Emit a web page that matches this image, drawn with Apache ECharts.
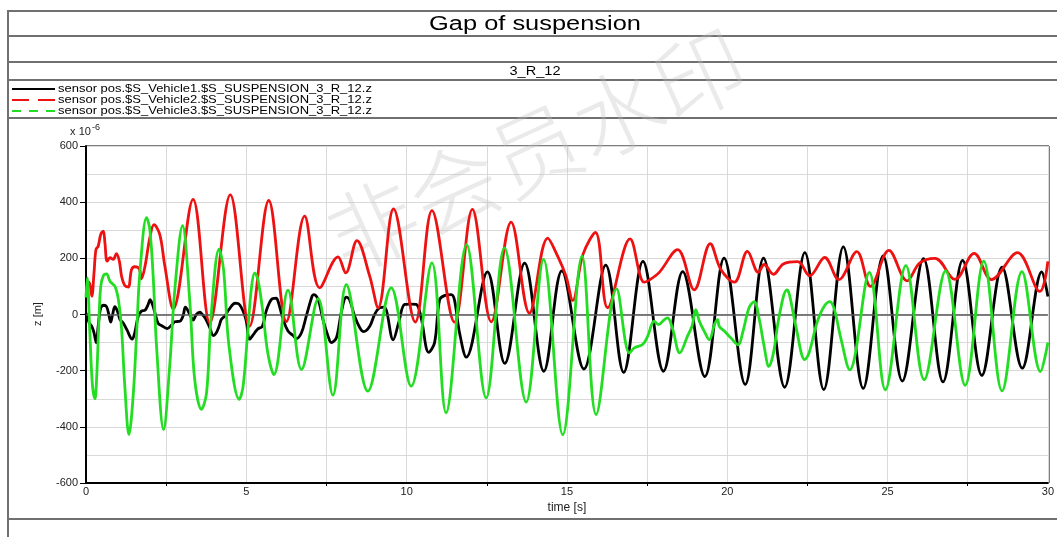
<!DOCTYPE html>
<html>
<head>
<meta charset="utf-8">
<title>Gap of suspension</title>
<script src="https://cdn.jsdelivr.net/npm/echarts@6/dist/echarts.min.js"></script>
<style>
  html, body { margin: 0; padding: 0; background: #fff; }
  #main { width: 1057px; height: 537px; }
</style>
</head>
<body>
<div id="main"></div>
<script>
// values, z in 1e-6 m, time in s
var seriesNames = [
  'sensor pos.$S_Vehicle1.$S_SUSPENSION_3_R_12.z',
  'sensor pos.$S_Vehicle2.$S_SUSPENSION_3_R_12.z',
  'sensor pos.$S_Vehicle3.$S_SUSPENSION_3_R_12.z'
];
var xTicks = [0, 5, 10, 15, 20, 25, 30];
var yTicks = [-600, -400, -200, 0, 200, 400, 600];

var blackT = [0.0, 0.1, 0.18, 0.25, 0.32, 0.38, 0.46, 0.56, 0.64, 0.7, 0.77, 0.83, 0.9, 0.98, 1.06, 1.16, 1.27, 1.44, 1.52, 1.63, 1.73, 1.84, 1.94, 2.0, 2.07, 2.15, 2.25, 2.35, 2.53, 2.67, 2.77, 2.93, 3.03, 3.1, 3.24, 3.34, 3.44, 3.55, 3.63, 3.73, 3.86, 3.97, 4.05, 4.15, 4.22, 4.33, 4.46, 4.65, 4.74, 4.9, 5.0, 5.1, 5.26, 5.36, 5.5, 5.62, 5.78, 5.93, 5.99, 6.15, 6.3, 6.46, 6.56, 6.72, 6.87, 7.05, 7.1, 7.24, 7.39, 7.55, 7.65, 7.81, 7.96, 8.12, 8.22, 8.38, 8.54, 8.66, 8.85, 9.0, 9.16, 9.3, 9.58, 9.75, 9.94, 10.14, 10.3, 10.45, 10.69, 10.87, 11.03, 11.2, 11.39, 11.49, 11.65, 11.86, 12.52, 13.06, 13.68, 14.28, 14.84, 15.53, 16.21, 16.77, 17.37, 18.01, 18.61, 19.3, 19.9, 20.56, 21.13, 21.79, 22.42, 23.01, 23.62, 24.24, 24.86, 25.46, 26.12, 26.73, 27.34, 27.94, 28.57, 29.2, 29.81, 30.0];
var blackZ = [6, -30, -42, -65, -100, -42, 24, 33, 28, 6, -27, 0, 28, 12, -18, -30, -53, -88, -65, -6, 12, 15, 36, 53, 36, 6, -32, -39, -50, -38, -26, -24, -4, 26, 0, -20, 0, 8, 0, -15, -47, -75, -68, -42, -18, -6, 18, 40, 39, 12, -24, -88, -65, -51, -42, 12, 53, 58, 47, -18, -59, -75, -86, -65, -6, 65, 71, 53, -18, -77, -100, -83, 6, 62, 53, -6, -47, -61, -42, 0, 24, 26, -90, -30, 36, 37, 36, -10, -135, -101, 53, 68, 71, 53, -65, -152, 152, -174, 183, -202, 155, -194, 176, -206, 189, -202, 153, -221, 201, -249, 201, -259, 220, -267, 241, -263, 209, -237, 199, -240, 193, -217, 169, -191, 152, 64];

var redT = [0.02, 0.1, 0.18, 0.25, 0.31, 0.38, 0.46, 0.54, 0.59, 0.66, 0.75, 0.85, 0.95, 1.04, 1.11, 1.21, 1.32, 1.42, 1.52, 1.66, 1.73, 1.84, 1.99, 2.12, 2.3, 2.46, 2.72, 3.34, 3.86, 4.5, 5.1, 5.7, 6.25, 6.82, 7.29, 7.86, 8.1, 8.45, 8.85, 9.11, 9.59, 10.27, 10.79, 11.49, 12.05, 12.64, 13.26, 13.83, 14.4, 14.71, 14.97, 15.18, 15.5, 15.89, 16.27, 16.97, 17.41, 17.6, 17.88, 18.45, 18.97, 19.47, 19.8, 20.22, 20.63, 20.97, 21.15, 21.44, 21.75, 22.2, 22.57, 23.04, 23.48, 24.04, 24.47, 25.04, 25.61, 26.0, 26.48, 27.1, 27.7, 28.24, 29.05, 29.75, 30.0];
var redZ = [95, 115, 65, 148, 231, 243, 285, 297, 255, 190, 202, 196, 217, 190, 136, 103, 98, 160, 170, 163, 127, 172, 273, 320, 285, 172, 20, 410, -30, 426, -42, 406, -25, 350, 95, 205, 148, 263, 136, 24, 376, -27, 370, -27, 374, -26, 329, 5, 272, 208, 137, 50, 214, 292, 24, 269, 115, 125, 150, 231, 88, 252, 160, 115, 225, 150, 178, 143, 180, 188, 138, 203, 124, 224, 100, 228, 120, 183, 200, 125, 218, 124, 220, 82, 189];

var greenT = [0.0, 0.04, 0.12, 0.2, 0.28, 0.33, 0.4, 0.46, 0.55, 0.64, 0.75, 0.9, 1.01, 1.11, 1.21, 1.34, 1.47, 1.58, 1.68, 1.89, 1.99, 2.1, 2.2, 2.42, 2.61, 2.77, 3.01, 3.24, 3.39, 3.6, 3.76, 3.91, 4.15, 4.29, 4.46, 4.78, 4.9, 5.05, 5.16, 5.26, 5.36, 5.52, 5.67, 5.86, 6.3, 6.72, 7.24, 7.7, 8.12, 8.79, 9.52, 10.14, 10.79, 11.23, 11.87, 12.48, 13.05, 13.73, 14.27, 14.87, 15.47, 15.91, 16.55, 16.95, 17.1, 17.36, 17.52, 17.72, 17.86, 18.04, 18.14, 18.3, 18.52, 18.76, 18.9, 19.02, 19.13, 19.28, 19.44, 19.6, 19.7, 19.75, 19.91, 20.11, 20.34, 20.48, 20.68, 20.84, 21.0, 21.15, 21.3, 21.44, 21.62, 21.86, 21.94, 22.14, 22.42, 22.55, 22.87, 23.2, 23.34, 23.54, 23.82, 24.43, 24.93, 25.57, 26.14, 26.81, 27.42, 28.0, 28.57, 29.19, 29.77, 30.0];
var greenZ = [60, 130, -65, -250, -300, -231, -30, 100, 140, 145, 118, 101, 53, -53, -255, -428, -291, -65, 148, 345, 303, 125, -113, -410, -184, 89, 316, 42, -231, -338, -279, 6, 233, 160, -113, -302, -255, -53, 95, 148, 125, 6, -137, -214, 87, -196, 56, -287, 106, -273, 95, -255, 184, -350, 249, -297, 237, -312, 196, -428, 208, -356, 91, -137, -119, -107, -77, -24, -36, -18, -12, -53, -137, -77, -42, 17, -24, -59, -90, -36, -18, -42, -59, -83, -108, -65, 24, 46, -18, -113, -185, -137, -6, 88, 71, -42, -161, -137, -6, 46, 18, -83, -197, 150, -268, 174, -232, 155, -252, 190, -272, 153, -203, -100];

var colors = ['#000000', '#ee1111', '#22dd22'];
var legendDash = ['solid', [17, 9], [9, 8]];

function pairs(t, z) {
  return t.map(function (v, i) { return [v, z[i]]; });
}

var chart = echarts.init(document.getElementById('main'));
var frame = '#707070';
var font = 'Liberation Sans, Arial, sans-serif';

function hline(y) {
  return { type: 'line', shape: { x1: 8, y1: y, x2: 1057, y2: y }, style: { stroke: frame, lineWidth: 2 } };
}

var graphics = [
  hline(11), hline(36), hline(62), hline(80), hline(118), hline(519),
  { type: 'line', shape: { x1: 8, y1: 10, x2: 8, y2: 537 }, style: { stroke: frame, lineWidth: 2 } },
  // plot frame top and right
  { type: 'line', shape: { x1: 86, y1: 146, x2: 1049, y2: 146 }, style: { stroke: '#555', lineWidth: 1.5 } },
  { type: 'line', shape: { x1: 1049, y1: 146, x2: 1049, y2: 483 }, style: { stroke: '#555', lineWidth: 1.5 } },
  { type: 'text', x: 535, y: 24, scaleX: 1.27,
    style: { text: 'Gap of suspension', fontSize: 20, fill: '#000', fontFamily: font, align: 'center', verticalAlign: 'middle' } },
  { type: 'text', x: 535, y: 71, scaleX: 1.12,
    style: { text: '3_R_12', fontSize: 13, fill: '#000', fontFamily: font, align: 'center', verticalAlign: 'middle' } },
  { type: 'text', x: 38, y: 314, rotation: Math.PI / 2,
    style: { text: 'z [m]', fontSize: 11, fill: '#222', fontFamily: font, align: 'center', verticalAlign: 'middle' } },
  { type: 'text', x: 536, y: 150, rotation: 0.43, z: 1,
    style: { text: '非会员水印', fontSize: 90, fill: 'rgba(190,190,190,0.33)', align: 'center', verticalAlign: 'middle',
      fontFamily: 'Noto Sans CJK SC', fontWeight: 300 } }
];
seriesNames.forEach(function (n, i) {
  var y = 89 + i * 11;
  graphics.push({ type: 'line', shape: { x1: 12, y1: y, x2: 55, y2: y },
    style: { stroke: colors[i], lineWidth: 2, lineDash: legendDash[i] === 'solid' ? null : legendDash[i] } });
  graphics.push({ type: 'text', x: 58, y: y, scaleX: 1.18,
    style: { text: n, fontSize: 11, fill: '#000', fontFamily: font, verticalAlign: 'middle' } });
});

var option = {
  backgroundColor: '#ffffff',
  animation: false,
  textStyle: { fontFamily: font },
  grid: { left: 86, right: 8, top: 146, bottom: 54 },
  xAxis: {
    type: 'value', min: 0, max: 30, interval: 5,
    name: 'time [s]', nameLocation: 'middle', nameGap: 19,
    nameTextStyle: { fontSize: 12, color: '#222' },
    axisLine: { onZero: false, lineStyle: { color: '#000', width: 2 } },
    axisTick: { show: false },
    minorTick: { show: true, splitNumber: 2, length: 3, lineStyle: { color: '#000' } },
    axisLabel: { fontSize: 11, color: '#222', margin: 3,
      formatter: function (v) { return xTicks.indexOf(v) >= 0 ? String(v) : ''; } },
    splitLine: { show: true, lineStyle: { color: '#d9d9d9', width: 1 } },
    minorSplitLine: { show: true, lineStyle: { color: '#d9d9d9', width: 1 } }
  },
  yAxis: {
    type: 'value', min: -600, max: 600, interval: 200,
    name: '{a|x 10}{b|-6}', nameLocation: 'end', nameGap: 5,
    nameTextStyle: { align: 'center', padding: [0, 0, 0, -2],
      rich: { a: { fontSize: 11, color: '#222' },
              b: { fontSize: 9, color: '#222', verticalAlign: 'top', padding: [0, 0, 9, 1] } } },
    axisLine: { show: true, lineStyle: { color: '#000', width: 2 } },
    axisTick: { show: true, inside: false, length: 6, lineStyle: { color: '#000' } },
    minorTick: { show: false, splitNumber: 2 },
    axisLabel: { fontSize: 11, color: '#222', margin: 8,
      formatter: function (v) { return yTicks.indexOf(v) >= 0 ? String(v) : ''; } },
    splitLine: { show: true, lineStyle: { color: '#d9d9d9', width: 1 } },
    minorSplitLine: { show: true, lineStyle: { color: '#d9d9d9', width: 1 } }
  },
  graphic: graphics,
  series: seriesNames.map(function (n, i) {
    var data = [pairs(blackT, blackZ), pairs(redT, redZ), pairs(greenT, greenZ)][i];
    var s = {
      name: n, type: 'line', data: data, smooth: 0.36, symbol: 'none',
      color: colors[i], lineStyle: { width: 2.8, color: colors[i] }, z: 3 + i
    };
    if (i === 0) {
      s.markLine = { silent: true, symbol: 'none', label: { show: false },
        lineStyle: { color: '#555', type: 'solid', width: 1.5 }, data: [{ yAxis: 0 }] };
    }
    return s;
  })
};
chart.setOption(option);
</script>
</body>
</html>
